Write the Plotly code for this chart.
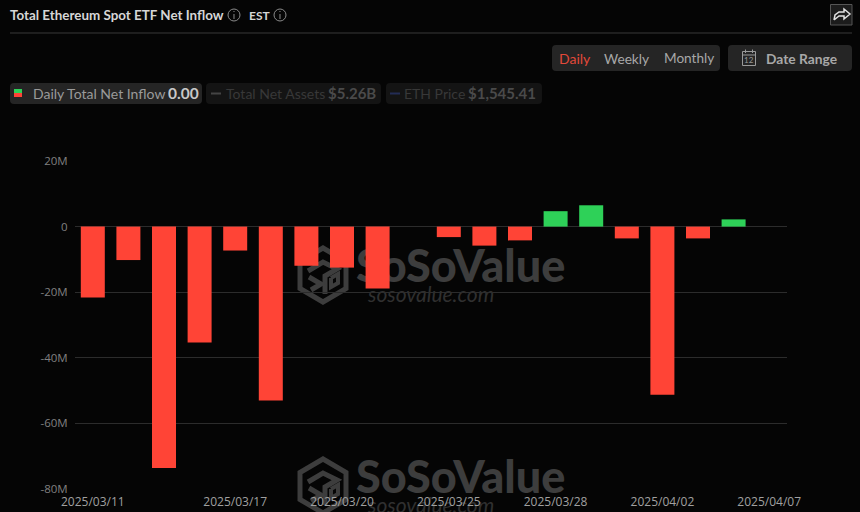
import plotly.graph_objects as go

dates = ["2025/03/11","2025/03/12","2025/03/13","2025/03/14","2025/03/17","2025/03/18","2025/03/19",
         "2025/03/20","2025/03/21","2025/03/24","2025/03/25","2025/03/26","2025/03/27","2025/03/28",
         "2025/03/31","2025/04/01","2025/04/02","2025/04/03","2025/04/04","2025/04/07"]
net_inflow = [-21.6,-10.2,-73.6,-35.3,-7.3,-53.0,-11.9,-12.5,-18.9,0,-3.2,-5.8,-4.2,4.7,6.5,-3.6,-51.3,-3.6,2.2,0]
x_ticks = ["2025/03/11","2025/03/17","2025/03/20","2025/03/25","2025/03/28","2025/04/02","2025/04/07"]
y_ticks = [20,0,-20,-40,-60,-80]
y_labels = ["20M","0","-20M","-40M","-60M","-80M"]

W, H = 860, 512
BG = "#050505"
RED, GREEN = "#ff4436", "#2ed158"
px = lambda x: x / W
py = lambda y: 1 - y / H

def P(points, close=True):
    s = "M" + " L".join(f"{px(x):.5f},{py(y):.5f}" for x, y in points)
    return s + (" Z" if close else "")

def rrect(x0, y0, x1, y1, fill, r=4, layer="below"):
    s = (f"M{px(x0+r):.5f},{py(y0):.5f} L{px(x1-r):.5f},{py(y0):.5f} "
         f"Q{px(x1):.5f},{py(y0):.5f} {px(x1):.5f},{py(y0+r):.5f} L{px(x1):.5f},{py(y1-r):.5f} "
         f"Q{px(x1):.5f},{py(y1):.5f} {px(x1-r):.5f},{py(y1):.5f} L{px(x0+r):.5f},{py(y1):.5f} "
         f"Q{px(x0):.5f},{py(y1):.5f} {px(x0):.5f},{py(y1-r):.5f} L{px(x0):.5f},{py(y0+r):.5f} "
         f"Q{px(x0):.5f},{py(y0):.5f} {px(x0+r):.5f},{py(y0):.5f} Z")
    return dict(type="path", xref="paper", yref="paper", path=s, fillcolor=fill,
                line=dict(width=0), layer=layer)

def rect(x0, y0, x1, y1, fill, line=None, layer="above"):
    return dict(type="rect", xref="paper", yref="paper", x0=px(x0), x1=px(x1), y0=py(y1), y1=py(y0),
                fillcolor=fill, line=dict(width=1 if line else 0, color=line or fill), layer=layer)

def seg(points, color, w=1.2, layer="above"):
    return dict(type="path", xref="paper", yref="paper", path=P(points, False),
                line=dict(color=color, width=w), layer=layer)

def circle(cx, cy, r, color):
    return dict(type="circle", xref="paper", yref="paper", x0=px(cx-r), x1=px(cx+r), y0=py(cy+r), y1=py(cy-r),
                line=dict(color=color, width=1), layer="above")

def T(x, y, text, size, color, bold=False, anchor="left", family="Lato"):
    return dict(xref="paper", yref="paper", x=px(x - 2 if anchor == "left" else x), y=py(y), xanchor=anchor, yanchor="middle",
                text=f"<b>{text}</b>" if bold else text, showarrow=False,
                font=dict(family=family, size=size, color=color))

def wm_label(x0, y0, x1, y1, text, size, color, family, weight="bold", style="normal"):
    return dict(type="rect", xref="paper", yref="paper", x0=px(x0), x1=px(x1), y0=py(y1), y1=py(y0),
                fillcolor="rgba(0,0,0,0)", line=dict(width=0), layer="below",
                label=dict(text=text, textposition="middle left",
                           font=dict(family=family, size=size, color=color, weight=weight, style=style)))

def logo(cx, cy, c="#3d3d3d"):
    r = 27
    h = [(cx, cy-r), (cx+23, cy-r/2), (cx+23, cy+r/2), (cx, cy+r), (cx-23, cy+r/2), (cx-23, cy-r/2)]
    return [
        dict(type="path", xref="paper", yref="paper", path=P(h), line=dict(color=c, width=5),
             fillcolor="rgba(0,0,0,0)", layer="below"),
        seg([(cx-15, cy-4), (cx, cy-13), (cx+14, cy-6), (cx+2, cy+1), (cx+2, cy+19)], c, 5, "below"),
        seg([(cx-14, cy+2), (cx-2, cy+9), (cx-12, cy+15)], c, 5, "below"),
        seg([(cx+8, cy+3), (cx+15, cy-1), (cx+15, cy+8), (cx+8, cy+12), (cx+8, cy+3)], c, 4, "below"),
    ]

shapes = []
for dy in (0, 211):
    shapes += logo(323, 275 + dy)
    shapes.append(wm_label(350, 243 + dy, 580, 285 + dy, "SoSoValue", 45, "#3d3d3d", "Lato", 900))
    shapes.append(wm_label(362, 283 + dy, 520, 303 + dy, "sosovalue.com", 21, "#303030", "Lato", "normal", "italic"))

shapes += [
    seg([(10, 33), (852, 33)], "#3a3a3a", 1),
    circle(234, 15, 6, "#8a8a8a"), seg([(234, 14), (234, 19)], "#8a8a8a", 1), seg([(234, 11), (234, 12)], "#8a8a8a", 1),
    circle(280, 15, 6, "#8a8a8a"), seg([(280, 14), (280, 19)], "#8a8a8a", 1), seg([(280, 11), (280, 12)], "#8a8a8a", 1),
    rect(830.5, 4.5, 852, 25, "#1c1c1c", "#555555"),
    seg([(834, 20), (835, 15), (839, 12), (844, 12), (844, 9), (850, 14), (844, 19), (844, 16), (839, 16), (834, 20)], "#e0e0e0", 1.5),
    rrect(552, 45, 720, 71, "#252525"),
    rrect(728, 45, 852, 71, "#252525"),
    rect(742.5, 51.5, 755.5, 65.5, "rgba(0,0,0,0)", "#9a9a9a"),
    seg([(742.5, 55), (755.5, 55)], "#9a9a9a", 1),
    seg([(745.5, 49.5), (745.5, 53)], "#9a9a9a", 1),
    seg([(752.5, 49.5), (752.5, 53)], "#9a9a9a", 1),
    rrect(10, 83, 202, 104, "#252525"),
    rrect(206, 83, 381, 104, "#141414"),
    rrect(386, 83, 542, 104, "#141414"),
    rect(14, 89, 22, 93, GREEN),
    rect(14, 93, 22, 97, RED),
    rect(211, 92.5, 221, 94.5, "#444444"),
    rect(390, 92.5, 400, 94.5, "#232c55"),
]

annotations = [
    T(10, 15, "Total Ethereum Spot ETF Net Inflow", 13.4, "#d6d6d6", True),
    T(249, 15, "EST", 12, "#d6d6d6", True),
    T(559, 58, "Daily", 14, "#e2493a"),
    T(604, 58, "Weekly", 13.7, "#a8a8a8"),
    T(664, 58, "Monthly", 13.6, "#a8a8a8"),
    T(766, 58, "Date Range", 13.8, "#a8a8a8", True),
    T(749, 60, "12", 8, "#9a9a9a", anchor="center"),
    T(33, 93, "Daily Total Net Inflow", 14, "#9a9a9a"),
    T(168, 93, "0.00", 15.5, "#c8c8c8", True),
    T(226, 93, "Total Net Assets", 14, "#383838"),
    T(328, 93, "$5.26B", 15, "#4a4a4a", True),
    T(404, 93, "ETH Price", 14, "#383838"),
    T(468, 93, "$1,545.41", 15, "#4a4a4a", True),
]

fig = go.Figure(go.Bar(
    x=dates, y=net_inflow,
    marker=dict(color=[GREEN if v > 0 else RED for v in net_inflow], line=dict(width=0)),
    hoverinfo="x+y",
))
fig.update_layout(
    width=W, height=H, margin=dict(l=0, r=0, t=0, b=0, autoexpand=False), autosize=False,
    paper_bgcolor=BG, plot_bgcolor="rgba(0,0,0,0)", showlegend=False, bargap=0.326,
    shapes=shapes, annotations=annotations,
    xaxis=dict(type="category", domain=[px(75), px(787)], range=[-0.5, 19.5], categoryorder="array",
               categoryarray=dates, tickmode="array", tickvals=x_ticks, ticktext=x_ticks, automargin=False,
               tickangle=0, showgrid=False, zeroline=False, showline=False, ticks="outside", ticklen=2,
               tickcolor="rgba(0,0,0,0)", tickfont=dict(family="Open Sans", size=12, color="#a0a0a0"),
               anchor="y"),
    yaxis=dict(domain=[py(489), py(161)], range=[-80, 20], tickmode="array", tickvals=y_ticks, ticktext=y_labels,
               automargin=False, showgrid=True, gridcolor="#2c2c2c", gridwidth=1, zeroline=False, showline=False,
               ticks="outside", ticklen=4, tickcolor="rgba(0,0,0,0)",
               tickfont=dict(family="Open Sans", size=11.5, color="#808080"), anchor="x"),
)
fig.write_html("out.html", config=dict(displayModeBar=False),
               post_script="document.body.style.margin='0';document.body.style.background='#050505';document.documentElement.style.overflow='hidden';")
